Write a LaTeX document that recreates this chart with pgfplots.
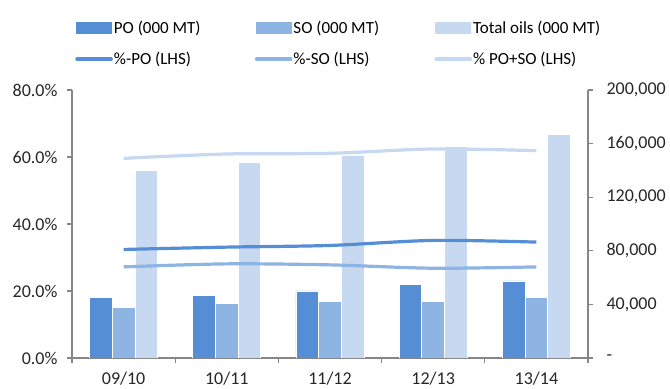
\documentclass[border=0pt]{standalone}
\usepackage{fontspec}
\setmainfont{Carlito}
\usepackage{pgfplots}
\pgfplotsset{compat=1.18}
\definecolor{po}{HTML}{558ED5}
\definecolor{so}{HTML}{8EB4E3}
\definecolor{tot}{HTML}{C6D9F1}
\definecolor{axgray}{HTML}{868686}

\begin{document}
\begin{tikzpicture}
\path[use as bounding box] (-72bp,-31bp) rectangle (598bp,358bp);
\pgfplotsset{
  base/.style={
    scale only axis, width=516bp, height=268bp,
    xmin=-0.5, xmax=4.5,
    at={(0,0)}, anchor=south west,
    axis line style={axgray, line width=1.2bp},
    tick style={axgray, line width=1.2bp},
    tick align=outside, major tick length=5bp, minor tick length=5bp,
    ticklabel style={font=\fontsize{18bp}{21bp}\selectfont, text=black!85},
    /pgf/number format/assume math mode=true,
  },
  barlegend/.style={legend image code/.code={\fill[##1] (0bp,-5.8bp) rectangle (36bp,5.8bp);}},
  linelegend/.style={legend image code/.code={\draw[##1, line width=3.6bp, line cap=round] (1bp,0bp) -- (35bp,0bp);}},
}
% volumes (000 MT) on the right-hand axis
\begin{axis}[base,
  axis x line*=bottom, axis y line*=right,
  ymin=0, ymax=200000, scaled y ticks=false,
  ytick={0,40000,80000,120000,160000,200000},
  yticklabels={-,{40,000},{80,000},{120,000},{160,000},{200,000}},
  yticklabel style={xshift=10bp},
  xtick={0,1,2,3,4}, xticklabels={09/10,10/11,11/12,12/13,13/14},
  major x tick style={draw=none},
  minor xtick={-0.5,0.5,1.5,2.5,3.5,4.5},
  xticklabel style={yshift=-5bp},
]
\addplot[ybar, bar width=0.22, bar shift=-0.22, fill=po, draw=white, line width=0.8bp]
  coordinates {(0,45300)(1,47000)(2,50000)(3,55200)(4,57500)};
\addplot[ybar, bar width=0.22, bar shift=0, fill=so, draw=white, line width=0.8bp]
  coordinates {(0,37800)(1,41000)(2,42000)(3,42000)(4,45300)};
\addplot[ybar, bar width=0.22, bar shift=0.22, fill=tot, draw=white, line width=0.8bp]
  coordinates {(0,139800)(1,145800)(2,151500)(3,157700)(4,166900)};
\end{axis}
% shares (%) on the left-hand axis
\begin{axis}[base,
  axis x line=none, axis y line*=left,
  ymin=0, ymax=80,
  ytick={0,20,40,60,80},
  yticklabels={0.0\%,20.0\%,40.0\%,60.0\%,80.0\%},
  yticklabel style={xshift=-6bp},
  legend columns=3,
  legend style={at={(axis description cs:0.006,1.261)}, anchor=north west,
    draw=none, fill=none, inner sep=0pt,
    nodes={inner sep=1bp, anchor=west},
    column sep=0pt, row sep=15bp,
    font=\fontsize{17bp}{20bp}\selectfont},
]
\addlegendimage{barlegend, fill=po, draw=none}
\addlegendentry{\makebox[140bp][l]{PO (000 MT)}}
\addlegendimage{barlegend, fill=so, draw=none}
\addlegendentry{\makebox[140bp][l]{SO (000 MT)}}
\addlegendimage{barlegend, fill=tot, draw=none}
\addlegendentry{\makebox[140bp][l]{Total oils (000 MT)}}
\addplot[linelegend, po, line width=3.2bp, smooth]
  coordinates {(0,32.4)(1,33.1)(2,33.6)(3,35.1)(4,34.6)};
\addlegendentry{\makebox[140bp][l]{\%-PO (LHS)}}
\addplot[linelegend, so, line width=3.2bp, smooth]
  coordinates {(0,27.2)(1,28.1)(2,27.8)(3,26.8)(4,27.2)};
\addlegendentry{\makebox[140bp][l]{\%-SO (LHS)}}
\addplot[linelegend, tot, line width=3.2bp, smooth]
  coordinates {(0,59.6)(1,60.9)(2,61.1)(3,62.4)(4,61.9)};
\addlegendentry{\makebox[140bp][l]{\% PO+SO (LHS)}}
\end{axis}
\end{tikzpicture}
\end{document}
